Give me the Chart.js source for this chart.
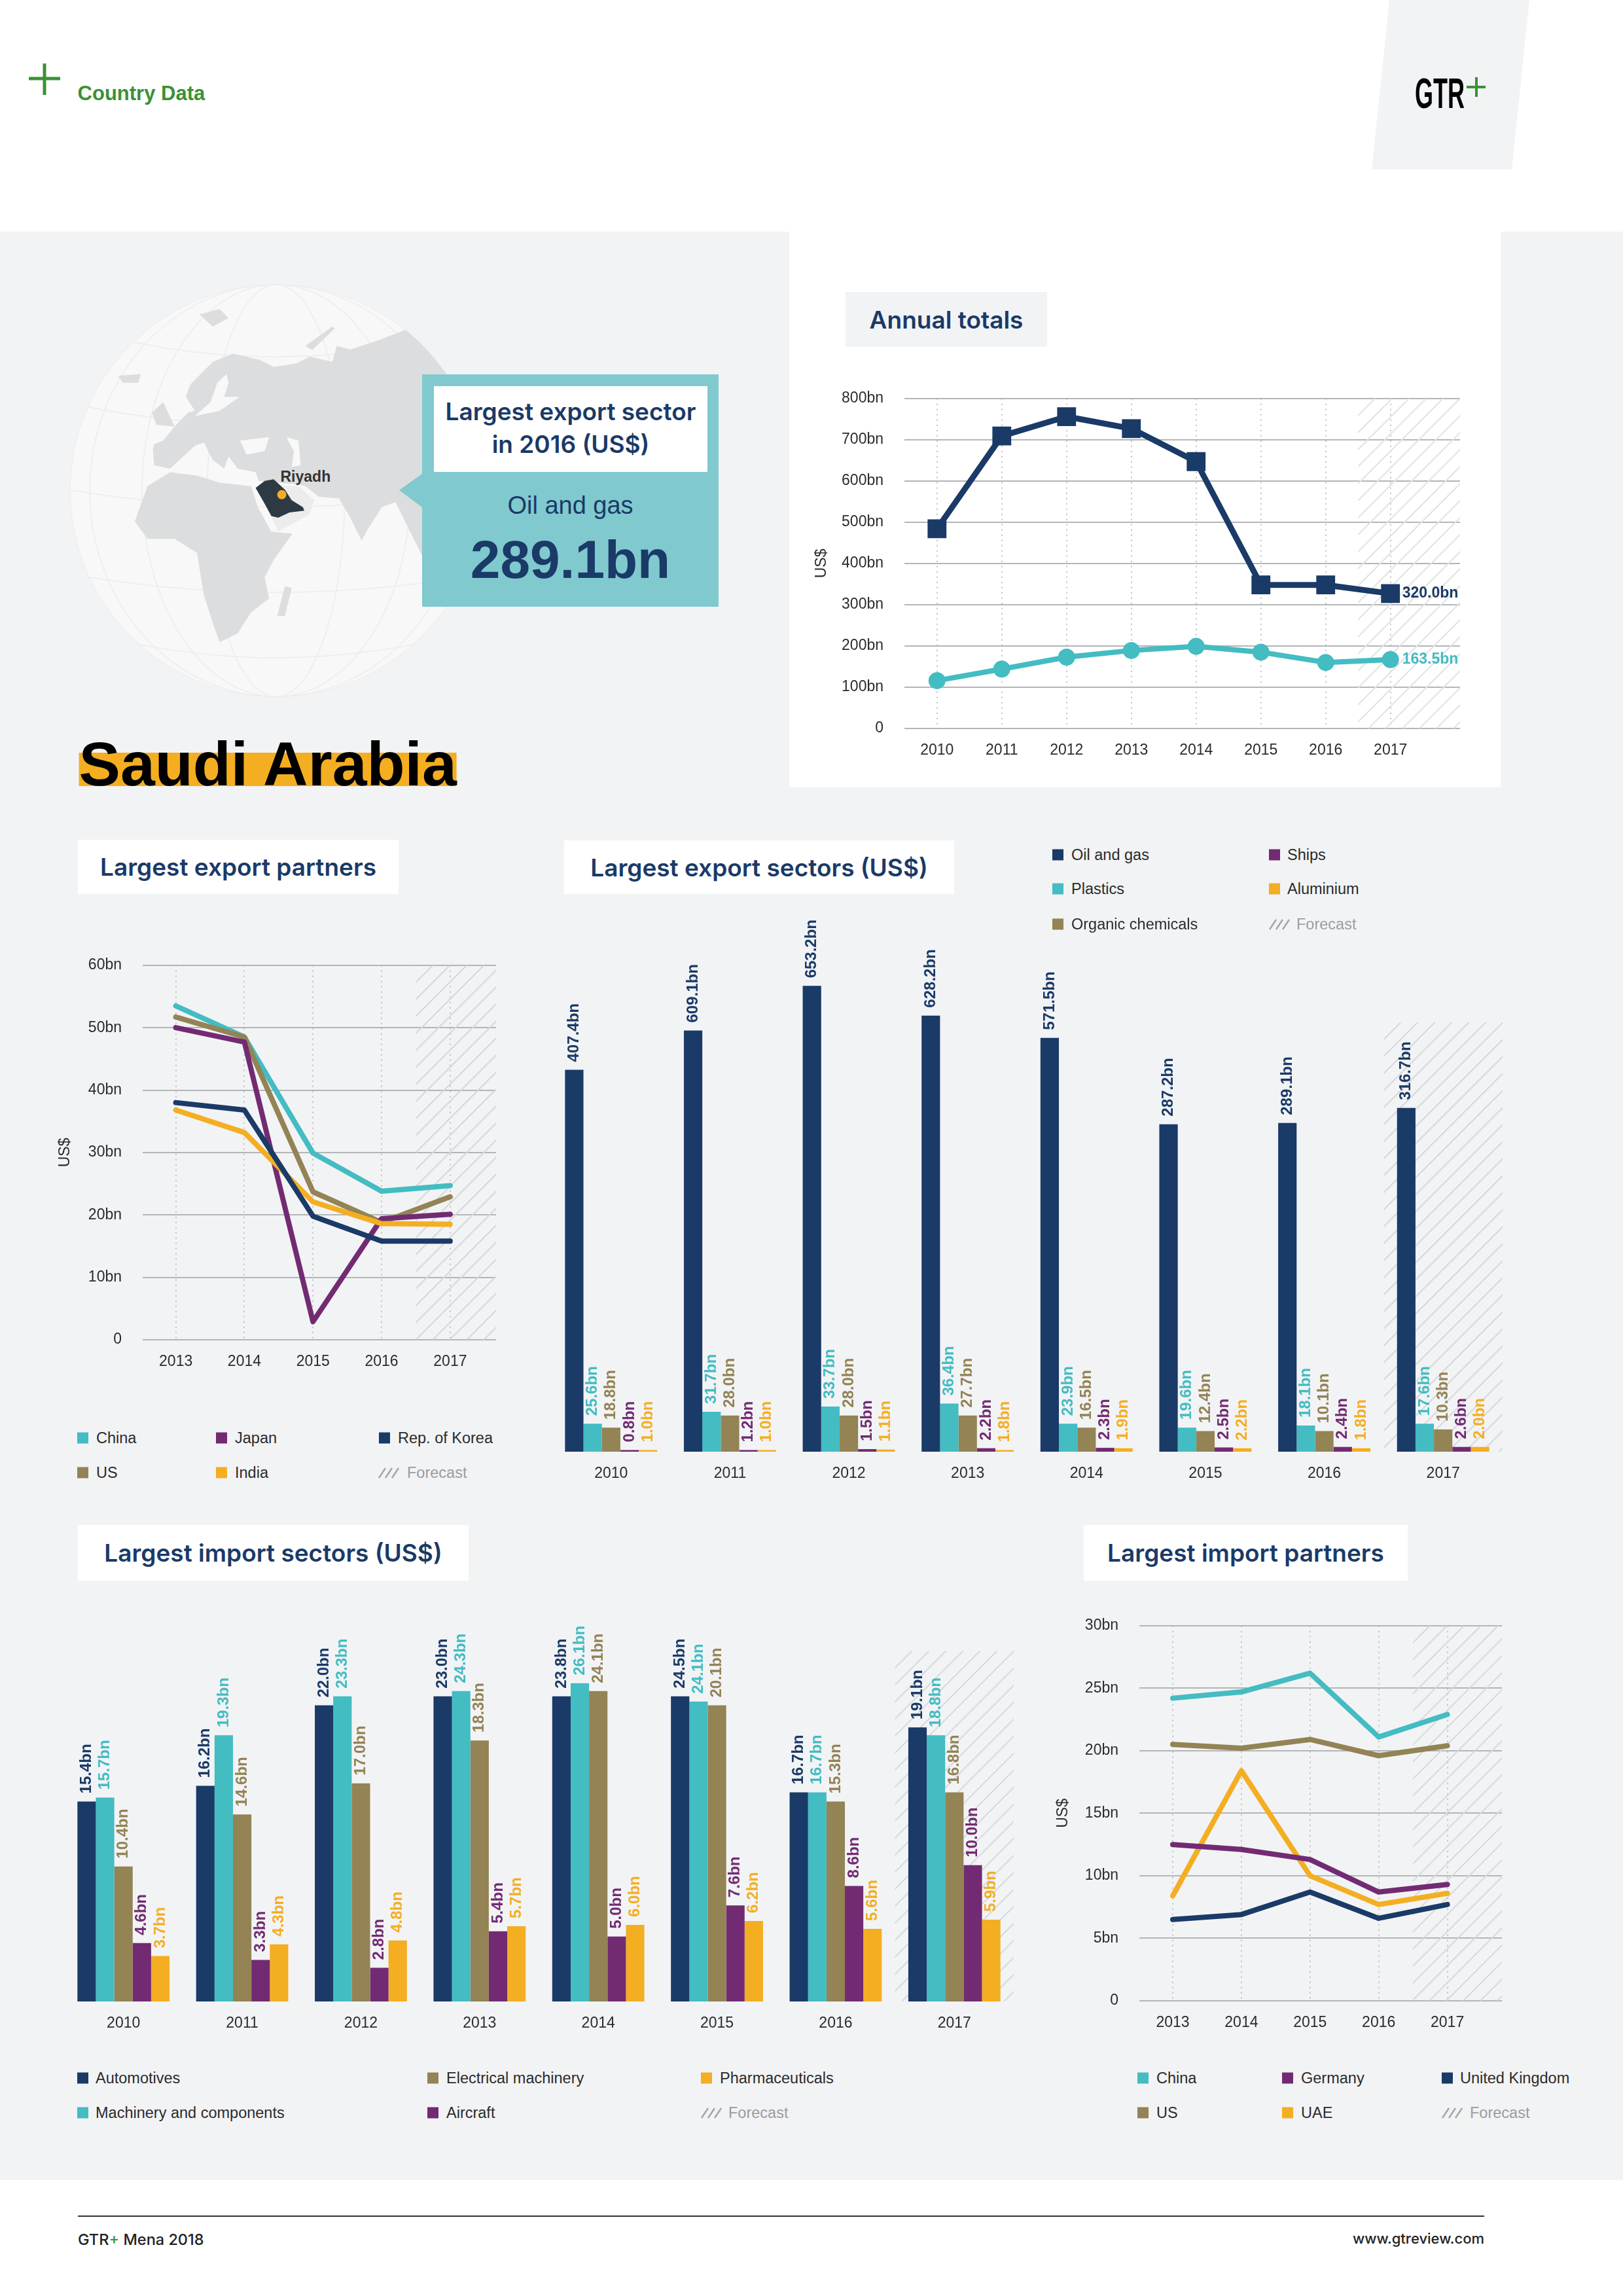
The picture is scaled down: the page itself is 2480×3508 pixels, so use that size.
<!DOCTYPE html>
<html>
<head>
<meta charset="utf-8">
<title>Saudi Arabia - Country Data</title>
<script src="https://cdn.jsdelivr.net/npm/chart.js@4"></script>
<style>
    html, body { margin: 0; padding: 0; background: #fff; }
    #page { position: relative; width: 2480px; height: 3508px; overflow: hidden; font-family: "Liberation Sans", sans-serif; color: #2b2b2b; }
    #page > * { position: absolute; }
    .band { left: 0; top: 354px; width: 2480px; height: 2977px; background: #f2f3f5; }
    .title { display: flex; align-items: center; justify-content: center; background: #fff; color: #1a3a67; font: 600 37px Inter, sans-serif; white-space: nowrap; }
    .legend-text { font-size: 23.5px; line-height: 30px; white-space: nowrap; transform: translateY(-50%); }
    .swatch { width: 17px; height: 17px; transform: translateY(-50%); }
    canvas { display: block; }
</style>
</head>
<body>
<div id="page">
    <div class="band"></div>
    <svg style="left:0;top:0" width="2480" height="3508" xmlns="http://www.w3.org/2000/svg">
        <polygon points="2123,0 2337,0 2310,259 2096,259" fill="#f2f3f5"/>
        <rect x="1206" y="354" width="1087" height="849" fill="#fff"/>
        <defs><clipPath id="sphere"><circle cx="422" cy="749.5" r="315"/></clipPath></defs>
        <circle cx="422" cy="749.5" r="315" fill="#f8f8f8" stroke="#f0f0f0" stroke-width="2"/>
        <g clip-path="url(#sphere)" fill="none" stroke="#ececec" stroke-width="1.5">
            <ellipse cx="422" cy="749.5" rx="0" ry="315"/>
            <ellipse cx="422" cy="749.5" rx="105" ry="315"/>
            <ellipse cx="422" cy="749.5" rx="205" ry="315"/>
            <ellipse cx="422" cy="749.5" rx="285" ry="315"/>
            <path d="M107 749 Q422 800 737 749 M125 620 Q422 680 720 620 M190 520 Q422 570 655 520 M125 880 Q422 930 720 880 M190 980 Q422 1030 655 980"/>
        </g>
        <g clip-path="url(#sphere)">
            <g transform="translate(60,400) scale(.6888,.5357)" fill="#dcddde">
                <polygon points="252,535 255,580 290,590 320,555 345,525 365,515 385,565 410,590 420,555 440,590 480,600 487,625 575,635 590,640 620,670 665,675 690,730 715,795 730,760 760,700 790,685 815,750 850,840 950,860 950,200 810,195 750,225 690,250 660,240 650,285 600,270 570,290 520,300 490,280 430,262 385,285 335,350 325,385 345,425 330,430 300,470 275,510 255,520"/>
                <polygon points="240,640 290,600 350,610 400,630 470,640 485,700 515,770 562,775 520,850 500,900 510,960 470,1000 440,1060 400,1085 385,1030 365,950 350,830 300,790 240,790 212,740"/>
                <polygon points="483,640 530,770 600,720 610,680 575,640" fill="#ececed"/>
                <polygon points="250,430 275,400 300,470 260,465"/>
                <polygon points="175,325 225,320 220,345 185,345"/>
                <polygon points="355,150 400,135 420,160 385,185"/>
                <polygon points="545,925 560,930 545,1010 528,1010"/>
                <polygon points="590,240 650,185 656,190 605,252"/>
                <polygon points="415,320 395,345 380,400 345,440 400,425 445,385 410,385 420,345" fill="#f8f8f8"/>
                <polygon points="445,510 510,500 500,540 460,550" fill="#f8f8f8"/>
                <polygon points="548,500 575,510 580,580 560,585 565,540" fill="#f8f8f8"/>
                <polygon points="480,645 500,625 520,620 545,650 560,680 585,700 588,710 555,715 530,730 515,725 500,690" fill="#2d3a44"/>
            </g>
        </g>
        <circle cx="430.6" cy="755.7" r="7" fill="#f4ae22"/>
        <polygon points="645,724 610,749 645,775" fill="#80c9ce"/>
        <rect x="645" y="572" width="453" height="355" fill="#80c9ce"/>
        <rect x="663" y="590" width="418" height="131" fill="#fff"/>
        <rect x="120.6" y="1150" width="577" height="51" fill="#f4ae21"/>
        <g stroke="#3b9135" stroke-width="5"><line x1="68" y1="97" x2="68" y2="145"/><line x1="44" y1="120" x2="92" y2="120"/></g>
        <g stroke="#3b9135" stroke-width="4"><line x1="2256" y1="118" x2="2256" y2="148"/><line x1="2241" y1="133" x2="2270" y2="133"/></g>
        <text x="2162" y="165" font-family="Liberation Sans" font-weight="700" font-size="65" textLength="76" lengthAdjust="spacingAndGlyphs" fill="#000">GTR</text>
        <line x1="119" y1="3386" x2="2268" y2="3386" stroke="#333" stroke-width="2"/>
    </svg>

    <div style="left:118.6px;top:125px;font:700 31px 'Liberation Sans';color:#3b9135;">Country Data</div>
    <div style="left:428.5px;top:715px;font:700 23px 'Liberation Sans';color:#333;">Riyadh</div>
    <div style="left:663px;top:604px;width:418px;text-align:center;font:600 37px/50px Inter,sans-serif;color:#1a3a67;">Largest export sector<br>in 2016 (US$)</div>
    <div style="left:645px;top:748px;width:453px;text-align:center;font:400 38px/48px 'Liberation Sans';color:#1a3a67;">Oil and gas</div>
    <div style="left:645px;top:805px;width:453px;text-align:center;font:700 82px/100px 'Liberation Sans';color:#1a3a67;">289.1bn</div>
    <div style="left:120.6px;top:1112px;font:700 95px/110px 'Liberation Sans';color:#000;white-space:nowrap;">Saudi Arabia</div>

    <div class="title" style="left:1292px;top:446px;width:308px;height:84px;background:#f2f3f5;">Annual totals</div>
    <div class="title" style="left:119px;top:1283px;width:490px;height:83px;">Largest export partners</div>
    <div class="title" style="left:862px;top:1284px;width:596px;height:82px;">Largest export sectors (US$)</div>
    <div class="title" style="left:119px;top:2330px;width:597px;height:85px;">Largest import sectors (US$)</div>
    <div class="title" style="left:1656px;top:2330px;width:495px;height:85px;">Largest import partners</div>

    <canvas id="annualChart" style="left:1242px;top:563px" width="1012" height="610"></canvas>
    <canvas id="exportPartnersChart" style="left:86px;top:1429px" width="672" height="678"></canvas>
    <canvas id="exportSectorsChart" style="left:843px;top:1400px" width="1453" height="878"></canvas>
    <canvas id="importSectorsChart" style="left:98px;top:2480px" width="1451" height="638"></canvas>
    <canvas id="importPartnersChart" style="left:1611px;top:2438px" width="684" height="679"></canvas>

    <div style="left:119px;top:3407px;font:500 23.5px Inter,sans-serif;color:#222;">GTR<span style="color:#3b9135">+</span> Mena 2018</div>
    <div style="right:212px;top:3407px;font:500 22px Inter,sans-serif;color:#222;">www.gtreview.com</div>
</div>

<script>
    const navy = '#1a3a67';
    const teal = '#43bcc2';
    const olive = '#938355';
    const purple = '#722b72';
    const orange = '#f4ae22';

    const sectorYears = ['2010', '2011', '2012', '2013', '2014', '2015', '2016', '2017'];
    const annualYears = [2010, 2011, 2012, 2013, 2014, 2015, 2016, 2017];
    const partnerYears = [2013, 2014, 2015, 2016, 2017];

    const annualExports = [484, 709, 756, 727, 647, 348, 348, 327];
    const annualImports = [116, 144, 173, 189, 199, 185, 160, 167];
    const annualEndLabels = ['320.0bn', '163.5bn'];

    const exportChina = [53.5, 48.5, 29.9, 23.8, 24.7];
    const exportUs = [51.7, 48.5, 23.7, 18.8, 22.9];
    const exportJapan = [50.0, 47.7, 2.9, 19.4, 20.1];
    const exportKorea = [38.0, 36.8, 19.8, 15.8, 15.8];
    const exportIndia = [36.8, 33.2, 22.1, 18.6, 18.5];

    const importChina = [24.2, 24.7, 26.2, 21.1, 22.9];
    const importUs = [20.5, 20.2, 20.9, 19.6, 20.4];
    const importUae = [8.4, 18.4, 10.0, 7.7, 8.6];
    const importGermany = [12.5, 12.1, 11.3, 8.7, 9.3];
    const importUk = [6.5, 6.9, 8.7, 6.6, 7.7];

    // bar heights in the source are not proportional to the figures printed on
    // them, so the height read off the picture and the printed figure are separate
    const oilGasHeights = [296.3, 326.7, 361.3, 338.3, 321.0, 254.0, 255.0, 266.7];
    const plasticsHeights = [21.7, 31.0, 35.0, 37.3, 21.7, 18.7, 20.3, 21.7];
    const organicHeights = [18.7, 28.0, 28.0, 28.0, 18.7, 16.0, 16.0, 17.3];
    const shipsHeights = [1.3, 1.3, 2.0, 2.7, 3.0, 3.3, 3.7, 3.7];
    const aluminiumHeights = [1.3, 1.3, 1.7, 1.3, 2.7, 2.7, 2.7, 3.7];

    const oilGasPrinted = [407.4, 609.1, 653.2, 628.2, 571.5, 287.2, 289.1, 316.7];
    const plasticsPrinted = [25.6, 31.7, 33.7, 36.4, 23.9, 19.6, 18.1, 17.6];
    const organicPrinted = [18.8, 28.0, 28.0, 27.7, 16.5, 12.4, 10.1, 10.3];
    const shipsPrinted = [0.8, 1.2, 1.5, 2.2, 2.3, 2.5, 2.4, 2.6];
    const aluminiumPrinted = [1.0, 1.0, 1.1, 1.8, 1.9, 2.2, 1.8, 2.0];

    const automotiveHeights = [15.4, 16.6, 22.8, 23.5, 23.5, 23.5, 16.1, 21.1];
    const machineryHeights = [15.7, 20.5, 23.5, 23.9, 24.5, 23.1, 16.1, 20.5];
    const electricalHeights = [10.4, 14.4, 16.8, 20.1, 23.9, 22.8, 15.4, 16.1];
    const aircraftHeights = [4.5, 3.2, 2.6, 5.4, 5.0, 7.4, 8.9, 10.5];
    const pharmaHeights = [3.5, 4.4, 4.7, 5.8, 5.9, 6.2, 5.6, 6.3];

    const automotivePrinted = [15.4, 16.2, 22.0, 23.0, 23.8, 24.5, 16.7, 19.1];
    const machineryPrinted = [15.7, 19.3, 23.3, 24.3, 26.1, 24.1, 16.7, 18.8];
    const electricalPrinted = [10.4, 14.6, 17.0, 18.3, 24.1, 20.1, 15.3, 16.8];
    const aircraftPrinted = [4.6, 3.3, 2.8, 5.4, 5.0, 7.6, 8.6, 10.0];
    const pharmaPrinted = [3.7, 4.3, 4.8, 5.7, 6.0, 6.2, 5.6, 5.9];

    const tickFont = { family: 'Liberation Sans', size: 23 };
    const tickColor = '#2b2b2b';

    const forecastHatch = {
        id: 'forecastHatch',
        beforeDatasetsDraw: function (chart, args, opts) {
            const ctx = chart.ctx;
            const xScale = chart.scales.x;
            const yScale = chart.scales.y;
            const left = xScale.getPixelForValue(opts.from);
            const right = xScale.getPixelForValue(opts.to);
            const top = yScale.getPixelForValue(opts.top);
            const bottom = yScale.getPixelForValue(0);
            const height = bottom - top;
            const spacing = 26;

            ctx.save();
            ctx.beginPath();
            ctx.rect(left, top, right - left, height);
            ctx.clip();
            ctx.strokeStyle = opts.color;
            ctx.lineWidth = 2;
            ctx.beginPath();
            for (let x = left - height; x < right; x += spacing) {
                ctx.moveTo(x, bottom);
                ctx.lineTo(x + height, top);
            }
            ctx.stroke();
            ctx.restore();
        }
    };

    const barLabels = {
        id: 'barLabels',
        afterDatasetsDraw: function (chart) {
            const ctx = chart.ctx;
            chart.data.datasets.forEach(function (dataset, index) {
                chart.getDatasetMeta(index).data.forEach(function (bar, i) {
                    ctx.save();
                    ctx.translate(bar.x, bar.y - 12);
                    ctx.rotate(-Math.PI / 2);
                    ctx.font = 'bold 24px "Liberation Sans"';
                    ctx.fillStyle = dataset.backgroundColor;
                    ctx.textAlign = 'left';
                    ctx.textBaseline = 'middle';
                    ctx.fillText(dataset.printed[i].toFixed(1) + 'bn', 0, 0);
                    ctx.restore();
                });
            });
        }
    };

    const endLabels = {
        id: 'endLabels',
        afterDatasetsDraw: function (chart, args, opts) {
            const ctx = chart.ctx;
            chart.data.datasets.forEach(function (dataset, index) {
                if (!opts.labels[index]) {
                    return;
                }
                const points = chart.getDatasetMeta(index).data;
                const last = points[points.length - 1];
                ctx.save();
                ctx.font = 'bold 23px "Liberation Sans"';
                ctx.fillStyle = dataset.borderColor;
                ctx.textBaseline = 'middle';
                ctx.fillText(opts.labels[index], last.x + 18, last.y);
                ctx.restore();
            });
        }
    };

    function lineSeries(color, years, values, extra) {
        return Object.assign({
            data: years.map(function (year, i) { return { x: year, y: values[i] }; }),
            borderColor: color,
            backgroundColor: color,
            borderWidth: 8,
            borderCapStyle: 'round',
            borderJoinStyle: 'round',
            pointRadius: 0,
            tension: 0
        }, extra);
    }

    function lineChart(id, years, datasets, settings) {
        return new Chart(document.getElementById(id), {
            type: 'line',
            data: { datasets: datasets },
            plugins: [forecastHatch, endLabels],
            options: {
                responsive: false,
                animation: false,
                layout: { padding: { top: 20 } },
                plugins: {
                    legend: { display: false },
                    tooltip: { enabled: false },
                    forecastHatch: { from: settings.hatchFrom, to: settings.xMax, top: settings.yMax, color: settings.hatchColor },
                    endLabels: { labels: settings.endLabels || [] }
                },
                scales: {
                    x: {
                        type: 'linear',
                        min: settings.xMin,
                        max: settings.xMax,
                        afterBuildTicks: function (scale) {
                            scale.ticks = scale.ticks.filter(function (tick) { return years.includes(tick.value); });
                        },
                        afterFit: function (scale) { scale.height = settings.xHeight; },
                        grid: { color: '#bfc0c2', lineWidth: 2, drawTicks: false },
                        border: { display: false, dash: [2, 6] },
                        ticks: {
                            stepSize: 1,
                            includeBounds: false,
                            autoSkip: false,
                            maxRotation: 0,
                            padding: 20,
                            font: tickFont,
                            color: tickColor,
                            callback: function (value) { return String(value); }
                        }
                    },
                    y: {
                        min: 0,
                        max: settings.yMax,
                        afterFit: function (scale) { scale.width = settings.yWidth; },
                        title: { display: true, text: 'US$', font: tickFont, color: tickColor, padding: 0 },
                        grid: { color: '#b4b5b7', lineWidth: 2, drawTicks: false },
                        border: { display: false },
                        ticks: {
                            stepSize: settings.yStep,
                            padding: 32,
                            font: tickFont,
                            color: tickColor,
                            callback: function (value) { return value === 0 ? '0' : value + 'bn'; }
                        }
                    }
                }
            }
        });
    }

    function barSeries(color, heights, printed) {
        return { data: heights, printed: printed, backgroundColor: color, borderWidth: 0 };
    }

    function barChart(id, datasets, settings) {
        return new Chart(document.getElementById(id), {
            type: 'bar',
            data: { labels: sectorYears, datasets: datasets },
            plugins: [forecastHatch, barLabels],
            options: {
                responsive: false,
                animation: false,
                datasets: { bar: { categoryPercentage: 0.776, barPercentage: 1 } },
                plugins: {
                    legend: { display: false },
                    tooltip: { enabled: false },
                    forecastHatch: { from: 6.5, to: 7.5, top: settings.hatchTop, color: '#d7d8da' }
                },
                scales: {
                    x: {
                        afterFit: function (scale) { scale.height = 60; },
                        grid: { display: false },
                        border: { display: false },
                        ticks: { padding: 12, font: tickFont, color: tickColor, maxRotation: 0 }
                    },
                    y: { display: false, min: 0, max: settings.yMax }
                }
            }
        });
    }

    function addLegend(items) {
        const page = document.getElementById('page');
        items.forEach(function (item) {
            const text = document.createElement('div');
            text.className = 'legend-text';
            text.textContent = item.text;
            text.style.left = item.textX + 'px';
            text.style.top = item.y + 'px';
            if (item.color) {
                const swatch = document.createElement('div');
                swatch.className = 'swatch';
                swatch.style.left = item.x + 'px';
                swatch.style.top = item.y + 'px';
                swatch.style.background = item.color;
                page.appendChild(swatch);
            } else {
                text.style.color = '#9b9c9e';
                const icon = document.createElementNS('http://www.w3.org/2000/svg', 'svg');
                icon.setAttribute('width', '32');
                icon.setAttribute('height', '18');
                icon.style.left = item.x + 'px';
                icon.style.top = (item.y - 9) + 'px';
                icon.innerHTML = '<path d="M1 17 L11 2 M11 17 L21 2 M21 17 L31 2" stroke="#a5a6a8" stroke-width="2.5" fill="none"/>';
                page.appendChild(icon);
            }
            page.appendChild(text);
        });
    }

    lineChart('annualChart', annualYears, [
        lineSeries(navy, annualYears, annualExports, { borderWidth: 9, pointStyle: 'rect', pointRadius: 14 }),
        lineSeries(teal, annualYears, annualImports, { pointStyle: 'circle', pointRadius: 9 })
    ], { xMin: 2009.497, xMax: 2018.074, yMax: 800, yStep: 100, yWidth: 140, xHeight: 60, hatchFrom: 2016.5, hatchColor: '#e2e3e4', endLabels: annualEndLabels });

    lineChart('exportPartnersChart', partnerYears, [
        lineSeries(navy, partnerYears, exportKorea),
        lineSeries(orange, partnerYears, exportIndia),
        lineSeries(purple, partnerYears, exportJapan),
        lineSeries(olive, partnerYears, exportUs),
        lineSeries(teal, partnerYears, exportChina)
    ], { xMin: 2012.517, xMax: 2017.669, yMax: 60, yStep: 10, yWidth: 132, xHeight: 60, hatchFrom: 2016.5, hatchColor: '#d7d8da' });

    lineChart('importPartnersChart', partnerYears, [
        lineSeries(navy, partnerYears, importUk),
        lineSeries(purple, partnerYears, importGermany),
        lineSeries(orange, partnerYears, importUae),
        lineSeries(olive, partnerYears, importUs),
        lineSeries(teal, partnerYears, importChina)
    ], { xMin: 2012.514, xMax: 2017.795, yMax: 30, yStep: 5, yWidth: 130, xHeight: 60, hatchFrom: 2016.5, hatchColor: '#d7d8da' });

    barChart('exportSectorsChart', [
        barSeries(navy, oilGasHeights, oilGasPrinted),
        barSeries(teal, plasticsHeights, plasticsPrinted),
        barSeries(olive, organicHeights, organicPrinted),
        barSeries(purple, shipsHeights, shipsPrinted),
        barSeries(orange, aluminiumHeights, aluminiumPrinted)
    ], { yMax: 415.3, hatchTop: 333 });

    barChart('importSectorsChart', [
        barSeries(navy, automotiveHeights, automotivePrinted),
        barSeries(teal, machineryHeights, machineryPrinted),
        barSeries(olive, electricalHeights, electricalPrinted),
        barSeries(purple, aircraftHeights, aircraftPrinted),
        barSeries(orange, pharmaHeights, pharmaPrinted)
    ], { yMax: 29.13, hatchTop: 27 });

    addLegend([
        { text: 'Oil and gas', color: navy, x: 1608, textX: 1637, y: 1306 },
        { text: 'Plastics', color: teal, x: 1608, textX: 1637, y: 1358 },
        { text: 'Organic chemicals', color: olive, x: 1608, textX: 1637, y: 1412 },
        { text: 'Ships', color: purple, x: 1939, textX: 1967, y: 1306 },
        { text: 'Aluminium', color: orange, x: 1939, textX: 1967, y: 1358 },
        { text: 'Forecast', x: 1939, textX: 1981, y: 1412 },

        { text: 'China', color: teal, x: 118, textX: 147, y: 2197 },
        { text: 'US', color: olive, x: 118, textX: 147, y: 2250 },
        { text: 'Japan', color: purple, x: 330, textX: 359, y: 2197 },
        { text: 'India', color: orange, x: 330, textX: 359, y: 2250 },
        { text: 'Rep. of Korea', color: navy, x: 579, textX: 608, y: 2197 },
        { text: 'Forecast', x: 578, textX: 622, y: 2250 },

        { text: 'Automotives', color: navy, x: 118, textX: 146, y: 3175 },
        { text: 'Machinery and components', color: teal, x: 118, textX: 146, y: 3228 },
        { text: 'Electrical machinery', color: olive, x: 653, textX: 682, y: 3175 },
        { text: 'Aircraft', color: purple, x: 653, textX: 682, y: 3228 },
        { text: 'Pharmaceuticals', color: orange, x: 1071, textX: 1100, y: 3175 },
        { text: 'Forecast', x: 1071, textX: 1113, y: 3228 },

        { text: 'China', color: teal, x: 1738, textX: 1767, y: 3175 },
        { text: 'US', color: olive, x: 1738, textX: 1767, y: 3228 },
        { text: 'Germany', color: purple, x: 1959, textX: 1988, y: 3175 },
        { text: 'UAE', color: orange, x: 1959, textX: 1988, y: 3228 },
        { text: 'United Kingdom', color: navy, x: 2203, textX: 2231, y: 3175 },
        { text: 'Forecast', x: 2203, textX: 2246, y: 3228 }
    ]);
</script>
</body>
</html>
